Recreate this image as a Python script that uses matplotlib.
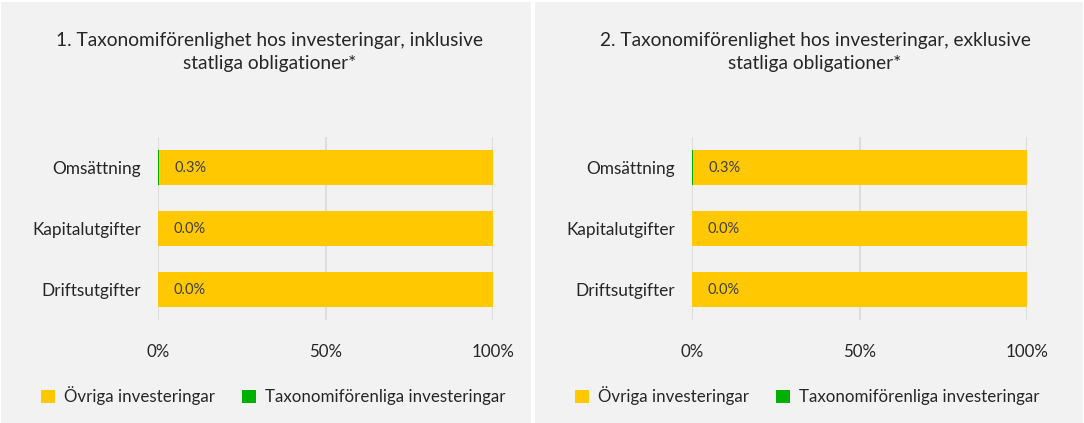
import matplotlib
matplotlib.use("Agg")
import matplotlib.pyplot as plt
from matplotlib.patches import Rectangle, Patch

plt.rcParams['font.family'] = ['Lato', 'DejaVu Sans']

categories = ["Omsättning", "Kapitalutgifter", "Driftsutgifter"]
titles = [
    "1. Taxonomiförenlighet hos investeringar, inklusive\nstatliga obligationer*",
    "2. Taxonomiförenlighet hos investeringar, exklusive\nstatliga obligationer*",
]
aligned_incl = [0.3, 0.0, 0.0]
aligned_excl = [0.3, 0.0, 0.0]
other_incl = [100 - v for v in aligned_incl]
other_excl = [100 - v for v in aligned_excl]
series = [(aligned_incl, other_incl), (aligned_excl, other_excl)]
xticks = [0, 50, 100]
xticklabels = ["0%", "50%", "100%"]
legend_labels = ["Övriga investeringar", "Taxonomiförenliga investeringar"]

YELLOW = "#FFC800"
GREEN = "#00B000"
PANEL = "#F2F2F2"
TEXT = "#262626"
W, H = 1084, 423

fig = plt.figure(figsize=(W / 100, H / 100), dpi=100)
fig.patch.set_facecolor("white")

# panel backgrounds
for x0, x1 in [(1, 531), (535, 1083)]:
    fig.patches.append(Rectangle((x0 / W, 0.5 / H), (x1 - x0) / W, (H - 2.5) / H,
                                 transform=fig.transFigure, facecolor=PANEL,
                                 edgecolor="none", zorder=-10))

# (axes left edge, title centre, legend centre) in pixels
panels = [(158, 270, 273), (692, 815, 807)]
for i, (ax_left, title_x, legend_x) in enumerate(panels):
    ax = fig.add_axes([ax_left / W, 1 - 320 / H, 335 / W, 183 / H])
    ax.set_facecolor("none")
    aligned, other = series[i]
    ypos = list(range(len(categories)))
    ax.barh(ypos, aligned, height=0.574, color=GREEN, zorder=3)
    ax.barh(ypos, other, left=aligned, height=0.574, color=YELLOW, zorder=3)
    for y, v in zip(ypos, aligned):
        ax.annotate(f"{v:.1f}%", xy=(v, y), xytext=(15, 0), textcoords="offset pixels",
                    ha="left", va="center", fontsize=10.5, color="#404040", zorder=4)
    ax.set_xlim(0, 100)
    ax.set_ylim(2.5, -0.5)
    ax.set_yticks(ypos)
    ax.set_yticklabels(categories, fontsize=12.4, color=TEXT)
    ax.set_xticks(xticks)
    ax.set_xticklabels(xticklabels, fontsize=12.2, color=TEXT)
    ax.tick_params(axis="both", length=0)
    ax.tick_params(axis="y", pad=12)
    ax.tick_params(axis="x", pad=17)
    ax.grid(axis="x", color="#D9D9D9", linewidth=1.2, zorder=0)
    for s in ax.spines.values():
        s.set_visible(False)
    ax.set_axisbelow(True)

    fig.text(title_x / W, 1 - 52 / H, titles[i], ha="center", va="center",
             fontsize=13.8, color=TEXT, linespacing=1.4)

    handles = [Patch(facecolor=YELLOW), Patch(facecolor=GREEN)]
    fig.legend(handles, legend_labels, loc="center", ncol=2,
               bbox_to_anchor=(legend_x / W, 1 - 396 / H),
               frameon=False, fontsize=12.2, handlelength=0.85, handleheight=0.85,
               handletextpad=0.5, columnspacing=1.6, labelcolor=TEXT)

fig.savefig("out.png", dpi=100, facecolor="white")
